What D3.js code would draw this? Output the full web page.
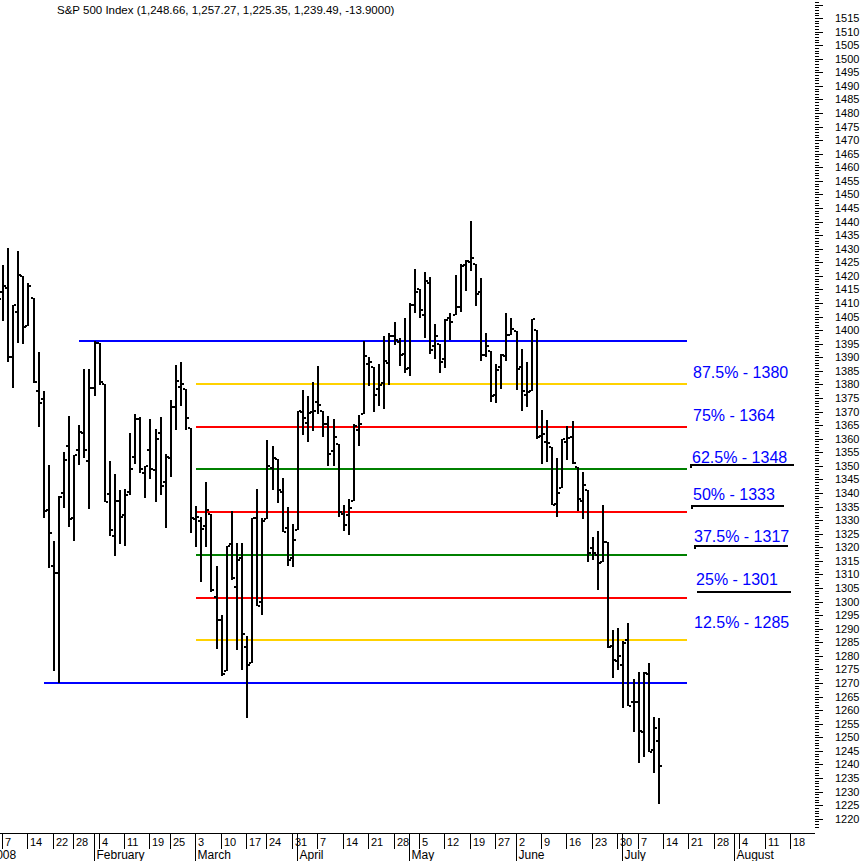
<!DOCTYPE html>
<html><head><meta charset="utf-8">
<script src="https://cdn.jsdelivr.net/npm/d3@7"></script>
<style>
body{margin:0;background:#fff}
svg{display:block}
text{font-family:"Liberation Sans",Arial,sans-serif}
</style>
</head><body>
<svg id="c" width="864" height="861"></svg>
<script>
const title = "S&P 500 Index (1,248.66, 1,257.27, 1,225.35, 1,239.49, -13.9000)";

const tradeDates = [
"1/2","1/3","1/4","1/7","1/8","1/9","1/10","1/11","1/14","1/15","1/16","1/17","1/18","1/22","1/23","1/24","1/25","1/28","1/29","1/30","1/31",
"2/1","2/4","2/5","2/6","2/7","2/8","2/11","2/12","2/13","2/14","2/15","2/19","2/20","2/21","2/22","2/25","2/26","2/27","2/28","2/29",
"3/3","3/4","3/5","3/6","3/7","3/10","3/11","3/12","3/13","3/14","3/17","3/18","3/19","3/20","3/24","3/25","3/26","3/27","3/28","3/31",
"4/1","4/2","4/3","4/4","4/7","4/8","4/9","4/10","4/11","4/14","4/15","4/16","4/17","4/18","4/21","4/22","4/23","4/24","4/25","4/28","4/29","4/30",
"5/1","5/2","5/5","5/6","5/7","5/8","5/9","5/12","5/13","5/14","5/15","5/16","5/19","5/20","5/21","5/22","5/23","5/27","5/28","5/29","5/30",
"6/2","6/3","6/4","6/5","6/6","6/9","6/10","6/11","6/12","6/13","6/16","6/17","6/18","6/19","6/20","6/23","6/24","6/25","6/26","6/27","6/30",
"7/1","7/2","7/3","7/7","7/8","7/9","7/10","7/11"];

const futureDates = [
"7/14","7/15","7/16","7/17","7/18","7/21","7/22","7/23","7/24","7/25","7/28","7/29","7/30","7/31",
"8/1","8/4","8/5","8/6","8/7","8/8","8/11","8/12","8/13","8/14","8/15","8/18","8/19","8/20","8/21","8/22"];

const opens = [
1467.97,1447.55,1444.01,1414.07,1415.71,1390.25,1406.78,1419.91,1401.60,1411.88,1377.41,1374.79,1333.90,1312.94,1310.41,1340.13,1357.32,1330.70,1355.94,1362.22,1351.98,
1378.60,1395.38,1380.28,1339.48,1324.01,1336.88,1331.92,1340.55,1353.12,1367.33,1347.52,1355.86,1348.39,1362.21,1344.22,1352.75,1371.76,1378.95,1378.16,1364.07,
1330.45,1329.58,1327.69,1332.20,1301.53,1293.16,1274.40,1321.13,1305.26,1316.05,1283.21,1277.41,1330.97,1299.67,1330.29,1349.07,1352.45,1340.34,1327.02,1315.92,
1326.41,1369.96,1365.69,1369.85,1373.69,1370.16,1365.50,1355.37,1357.98,1332.20,1331.72,1337.02,1363.37,1369.00,1387.72,1386.43,1378.40,1380.52,1387.88,1397.96,1395.61,1391.22,
1385.97,1409.16,1415.34,1405.60,1417.49,1394.29,1394.90,1389.40,1404.40,1405.65,1408.36,1423.89,1425.28,1424.49,1414.06,1390.83,1392.20,1375.97,1386.54,1390.50,1398.36,
1399.62,1386.42,1376.26,1377.48,1400.06,1360.83,1358.98,1357.09,1335.78,1341.81,1358.85,1360.71,1349.59,1336.89,1341.02,1319.77,1317.23,1314.54,1321.97,1283.60,1278.06,
1276.69,1285.82,1262.96,1262.90,1251.84,1273.38,1245.25,1248.66];

const highs = [
1471.77,1456.80,1444.01,1423.87,1430.28,1409.19,1429.09,1419.91,1417.28,1411.88,1391.99,1377.72,1350.28,1322.26,1339.02,1355.15,1368.56,1353.97,1364.93,1385.86,1385.62,
1396.02,1395.38,1380.28,1351.96,1347.16,1341.22,1341.40,1362.10,1369.23,1368.16,1350.00,1367.28,1363.71,1367.94,1354.30,1374.36,1387.34,1388.34,1378.16,1364.07,
1335.13,1331.03,1344.19,1332.20,1313.24,1295.01,1320.65,1333.26,1321.68,1321.47,1287.50,1330.74,1341.51,1330.67,1359.68,1357.47,1352.45,1345.62,1334.87,1328.52,
1370.18,1377.95,1375.66,1380.91,1386.74,1370.16,1368.39,1367.24,1357.98,1335.64,1337.72,1365.49,1368.60,1395.90,1390.23,1386.43,1387.40,1397.72,1399.11,1402.90,1397.00,1404.57,
1410.07,1422.72,1415.34,1421.57,1419.54,1402.35,1394.90,1404.06,1406.30,1420.19,1424.40,1425.82,1440.24,1424.49,1419.12,1399.07,1392.20,1387.40,1391.25,1406.32,1404.46,
1399.62,1393.12,1388.18,1404.05,1400.06,1370.63,1366.84,1357.09,1353.03,1360.03,1364.70,1366.59,1349.59,1347.66,1341.02,1323.78,1326.02,1335.63,1321.97,1289.45,1290.31,
1285.31,1292.17,1271.48,1273.95,1274.17,1277.36,1257.65,1257.27];

const lows = [
1442.07,1443.73,1411.19,1403.45,1388.30,1378.70,1395.31,1394.83,1401.60,1380.60,1364.27,1330.67,1312.51,1274.29,1270.05,1334.31,1327.50,1322.26,1350.19,1352.95,1334.08,
1375.93,1379.69,1336.64,1324.34,1316.75,1321.06,1320.32,1339.36,1350.78,1347.31,1338.13,1345.05,1336.55,1339.34,1327.04,1346.03,1363.29,1372.00,1363.16,1325.42,
1320.04,1307.39,1320.22,1303.42,1282.43,1272.66,1274.40,1307.86,1282.11,1274.86,1256.98,1277.41,1298.42,1295.22,1330.29,1341.21,1336.41,1325.66,1312.95,1312.81,
1326.41,1361.55,1358.68,1362.83,1369.02,1360.62,1349.97,1350.11,1331.21,1326.16,1324.35,1337.02,1357.25,1369.00,1379.25,1369.84,1372.24,1371.09,1379.98,1394.40,1386.70,1384.25,
1383.07,1406.25,1404.37,1397.10,1391.16,1389.39,1384.11,1386.20,1396.26,1405.65,1406.87,1414.35,1421.63,1409.09,1388.81,1390.23,1373.72,1373.07,1378.16,1388.59,1398.08,
1377.79,1370.12,1371.74,1377.48,1359.90,1350.62,1351.56,1335.47,1331.29,1341.71,1352.07,1350.54,1333.40,1330.50,1314.46,1315.31,1304.42,1314.54,1283.06,1272.00,1274.86,
1260.68,1261.51,1252.01,1240.68,1242.84,1244.57,1236.76,1225.35];

const closes = [
1447.16,1447.16,1411.63,1416.18,1390.19,1409.13,1420.33,1401.02,1416.25,1380.95,1373.20,1333.25,1325.19,1310.50,1338.60,1352.07,1330.61,1353.96,1362.30,1355.81,1378.55,
1395.42,1380.82,1336.64,1326.45,1336.91,1331.29,1339.13,1348.86,1367.21,1348.86,1349.99,1348.78,1360.03,1342.53,1353.11,1371.80,1381.29,1380.02,1367.68,1330.63,
1331.34,1326.75,1333.70,1304.34,1293.37,1273.37,1320.65,1308.77,1315.48,1288.14,1276.60,1330.74,1298.42,1329.51,1349.88,1352.99,1341.13,1325.76,1315.22,1322.70,
1370.18,1367.53,1369.31,1370.40,1372.54,1365.54,1354.49,1360.55,1332.83,1328.32,1334.43,1364.71,1365.56,1390.33,1388.17,1375.94,1379.93,1388.82,1397.84,1396.37,1390.94,1385.59,
1409.34,1413.90,1407.49,1418.26,1392.57,1397.68,1388.28,1403.58,1403.04,1408.66,1423.57,1425.35,1426.63,1413.40,1390.71,1394.35,1375.93,1385.35,1390.84,1398.26,1400.38,
1385.67,1377.65,1377.20,1404.05,1360.68,1361.76,1358.44,1335.49,1339.87,1360.03,1360.14,1350.93,1337.81,1342.83,1317.93,1318.00,1314.29,1321.97,1283.15,1278.38,1280.00,
1284.91,1261.52,1262.90,1252.31,1273.70,1244.69,1253.39,1239.49];

// x-axis labels
const weekLabelDates = ["1/7","1/14","1/22","1/28","2/4","2/11","2/19","2/25","3/3","3/10","3/17","3/24","3/31",
"4/7","4/14","4/21","4/28","5/5","5/12","5/19","5/27","6/2","6/9","6/16","6/23","6/30","7/7","7/14","7/21","7/28","8/4","8/11","8/18"];
const monthStartDates = ["1/2","2/1","3/3","4/1","5/1","6/2","7/1","8/1"];
const monthLabels = ["2008","February","March","April","May","June","July","August"];

// y-axis
const yLabelMin = 1220, yLabelMax = 1515, yLabelStep = 5;
const yMinorMin = 1217, yMinorMax = 1521;

// Retracement (range 1270 - 1396)
const rangeLow = 1270, rangeHigh = 1396;
const fibPcts = [1, 0.875, 0.75, 0.625, 0.5, 0.375, 0.25, 0.125, 0];
const fibStartDates = ["1/29","3/3","3/3","3/3","3/3","3/3","3/3","3/3","1/17"];
const fibEndDate = "7/18";
const fibColors = ["#0000ff","#ffd200","#ff0000","#008000","#ff0000","#008000","#ff0000","#ffd200","#0000ff"];
const fibLabels = ["87.5% - 1380","75% - 1364","62.5% - 1348","50% - 1333","37.5% - 1317","25% - 1301","12.5% - 1285"];
const fibLabelPrice = [1382.4,1366.6,1351.1,1337.4,1321.9,1306.1,1290.3];
const fibLabelDate = [138.7,138.7,138.5,138.7,138.9,139.3,138.9];
const underlinePrice = [null,null,1350.3,1335.4,1320.3,1303.7,null];
const underlineFrom = [null,null,138.1,138.3,138.9,139.5,null];
const underlineTo = [null,null,158.5,156.6,157.4,158.0,null];

// ---------- drawing ----------
const svg = d3.select("#c");
const allDates = tradeDates.concat(futureDates);
const idx = new Map(allDates.map((d,i)=>[d,i]));
const step = 5.085, x0 = -12.26;
const x = d3.scaleLinear().domain([0, allDates.length-1]).range([x0, x0 + step*(allDates.length-1)]);
const y = d3.scaleLinear().domain([1220, 1520]).range([818.7, 4.5]);

svg.append("rect").attr("width",864).attr("height",861).attr("fill","#fff");

// title
svg.append("text").attr("x",57).attr("y",14).attr("font-size","11.5px").attr("fill","#000").text(title);

// fib lines
const gl = svg.append("g").attr("shape-rendering","crispEdges");
fibPcts.forEach((p,k)=>{
  const v = rangeLow + p*(rangeHigh-rangeLow);
  gl.append("line")
    .attr("x1", x(idx.get(fibStartDates[k]))).attr("x2", x(idx.get(fibEndDate)+0.5))
    .attr("y1", y(v)).attr("y2", y(v))
    .attr("stroke", fibColors[k]).attr("stroke-width",2);
});

// bars
const gb = svg.append("g").attr("fill","#000").attr("shape-rendering","crispEdges");
const bars = tradeDates.map((d,i)=>({i, o:opens[i], h:highs[i], l:lows[i], c:closes[i]}));
gb.selectAll("rect.hl").data(bars).join("rect").attr("class","hl")
  .attr("x", d=>x(d.i)-1).attr("width",2)
  .attr("y", d=>y(d.h)).attr("height", d=>Math.max(1,y(d.l)-y(d.h)));
gb.selectAll("rect.op").data(bars).join("rect").attr("class","op")
  .attr("x", d=>x(d.i)-3).attr("width",2)
  .attr("y", d=>y(d.o)-1).attr("height",2);
gb.selectAll("rect.cl").data(bars).join("rect").attr("class","cl")
  .attr("x", d=>x(d.i)+1).attr("width",2)
  .attr("y", d=>y(d.c)-1).attr("height",2);

// fib labels
const gt = svg.append("g");
fibLabels.forEach((t,k)=>{
  gt.append("text").attr("x", x(fibLabelDate[k])).attr("y", y(fibLabelPrice[k]))
    .attr("font-size","16px").attr("fill","#0000ff").text(t);
  if (underlinePrice[k] !== null) {
    gt.append("line").attr("x1", x(underlineFrom[k])).attr("x2", x(underlineTo[k]))
      .attr("y1", y(underlinePrice[k])).attr("y2", y(underlinePrice[k]))
      .attr("stroke","#000").attr("stroke-width",2).attr("shape-rendering","crispEdges");
    if (k < 5) {
      gt.append("line").attr("x1", x(underlineFrom[k])+1).attr("x2", x(underlineFrom[k])+1)
        .attr("y1", y(underlinePrice[k])).attr("y2", y(underlinePrice[k])+3)
        .attr("stroke","#000").attr("stroke-width",2).attr("shape-rendering","crispEdges");
    }
  }
});

// y axis (right)
const ga = svg.append("g").attr("shape-rendering","crispEdges").attr("stroke","#000");
const axX = 815;
d3.range(yMinorMin, yMinorMax+1).forEach(v=>{
  const major = (v % yLabelStep === 0);
  ga.append("line").attr("x1",axX).attr("x2", axX + (major?8:4))
    .attr("y1", Math.round(y(v))+0.5).attr("y2", Math.round(y(v))+0.5).attr("stroke-width",1);
});
const yl = svg.append("g");
d3.range(yLabelMin, yLabelMax+1, yLabelStep).forEach(v=>{
  yl.append("text").attr("x",835).attr("y", y(v)+4).attr("font-size","11px").attr("fill","#000").text(v);
});

// x axis
const gx = svg.append("g").attr("shape-rendering","crispEdges");
const axTop = 833, rowMid = 849, axBot = 861;
gx.append("line").attr("x1",0).attr("x2",axX).attr("y1",axTop+0.5).attr("y2",axTop+0.5).attr("stroke","#000");
weekLabelDates.forEach(d=>{
  const xs = Math.round(x(idx.get(d))-1)+0.5;
  gx.append("line").attr("x1",xs).attr("x2",xs).attr("y1",axTop).attr("y2",rowMid).attr("stroke","#000");
  svg.append("text").attr("x", xs+2.5).attr("y", 846).attr("font-size","11px").attr("fill","#000")
    .text(d.split("/")[1]);
});
monthStartDates.forEach((d,k)=>{
  const xs = Math.round(x(idx.get(d))-1)+0.5;
  gx.append("line").attr("x1",xs).attr("x2",xs).attr("y1",axTop).attr("y2",axBot).attr("stroke","#000");
  svg.append("text").attr("x", xs+2).attr("y", 859).attr("font-size","12px").attr("fill","#000")
    .text(monthLabels[k]);
});
</script>
</body></html>
